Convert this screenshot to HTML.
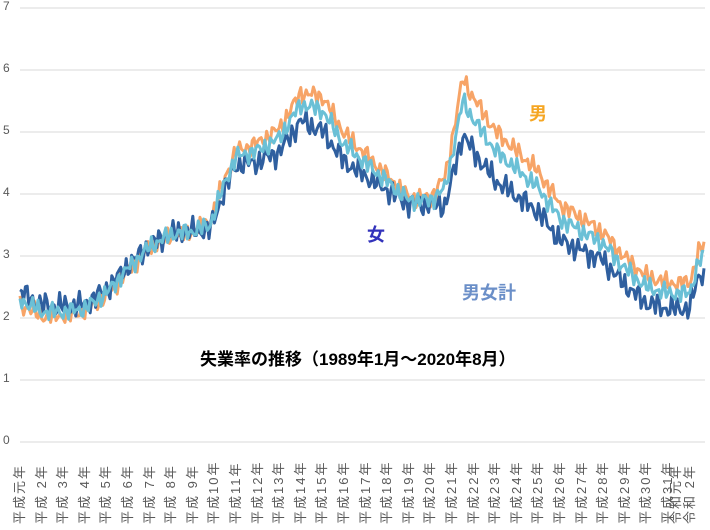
<!DOCTYPE html>
<html><head><meta charset="utf-8"><style>
html,body{margin:0;padding:0;background:#fff;}
#c{position:relative;width:710px;height:530px;overflow:hidden;font-family:"Liberation Sans","Noto Sans CJK JP",sans-serif;}
.yl{position:absolute;left:3px;font-size:12px;color:#595959;}
.xl{position:absolute;top:524px;transform:rotate(-90deg);transform-origin:left top;font-size:13px;color:#595959;line-height:14px;height:14px;white-space:nowrap;letter-spacing:2px;}
.an{position:absolute;font-weight:bold;font-size:18px;}
</style></head><body><div id="c">
<svg id="s" width="710" height="530" style="position:absolute;left:0;top:0"></svg>
<div class="an" style="left:529px;top:100px;color:#F5A623">男</div>
<div class="an" style="left:367px;top:221px;color:#3333BB">女</div>
<div class="an" style="left:462px;top:279px;color:#6B8FC8">男女計</div>
<div style="position:absolute;left:200px;top:345px;font-weight:bold;font-size:17px;color:#000">失業率の推移（1989年1月～2020年8月）</div>
</div>
<script>
const s=document.getElementById('s'),c=document.getElementById('c');
const Y=v=>442-62*v, X=m=>20+m*1.8;
let g='';
for(let v=0;v<=7;v++){g+=`<line x1="20" x2="705" y1="${Y(v)}" y2="${Y(v)}" stroke="#d9d9d9" stroke-width="1"/>`;
 c.insertAdjacentHTML('beforeend',`<div class="yl" style="top:${Y(v)-9}px">${v}</div>`);}
const labs=['平成元年'];for(let i=2;i<=30;i++)labs.push(i<10?'平成 '+i+'年':'平成'+i+'年');labs.push('平成31年','令和元年','令和 2年');
const pos=[];for(let i=0;i<31;i++)pos.push(13+i*21.6);
pos.push(pos[30]+8,pos[30]+22);
labs.forEach((t,i)=>{c.insertAdjacentHTML('beforeend',`<div class="xl" style="left:${pos[i]}px">${t}</div>`)});
function interp(k,m){for(let i=0;i<k.length-1;i++){if(m>=k[i][0]&&m<=k[i+1][0]){const t=(m-k[i][0])/(k[i+1][0]-k[i][0]);return k[i][1]+t*(k[i+1][1]-k[i][1]);}}return k[k.length-1][1];}
const y=a=>(a-1989)*12;
const T=[[0,2.3],[y(1989.5),2.2],[y(1990),2.1],[y(1991),2.1],[y(1992),2.15],[y(1993),2.4],[y(1994),2.8],[y(1995),3.15],[y(1996),3.35],[y(1997),3.4],[y(1997.8),3.5],[y(1998.5),4.2],[y(1999),4.6],[y(2000),4.7],[y(2001),4.9],[y(2002),5.45],[y(2003),5.35],[y(2004),4.8],[y(2005),4.5],[y(2006),4.2],[y(2007),3.9],[y(2008),3.9],[y(2008.7),4.1],[y(2009.5),5.5],[y(2010),5.2],[y(2011),4.7],[y(2012),4.4],[y(2013),4.1],[y(2014),3.6],[y(2015),3.4],[y(2016),3.2],[y(2017),2.8],[y(2018),2.5],[y(2019),2.4],[y(2020),2.4],[y(2020.4),2.9],[380,3.0]];
const D=[[0,-0.2],[y(1993),-0.1],[y(1997),0],[y(1998),0.15],[y(2000),0.3],[y(2002),0.45],[y(2003),0.55],[y(2005),0.35],[y(2007),0.1],[y(2008),0.1],[y(2009.5),0.9],[y(2011),0.8],[y(2013),0.65],[y(2016),0.45],[y(2020.6),0.4]];
function noise(m,k){return 0.09*Math.sin(m*1.7+k)+0.06*Math.sin(m*3.9+2*k)+0.04*Math.sin(m*0.61+k*3);}
const ser=[[0.4,'#F7A467',1],[-0.6,'#2F5F9F',2],[0,'#6BC0D6',3]];
ser.forEach(([f,col,k])=>{let p=[];for(let m=0;m<=380;m++){const v=interp(T,m)+f*interp(D,m)+noise(m,k)*(k==2?1.3:1);p.push(X(m).toFixed(1)+','+Y(v).toFixed(1));}
g+=`<polyline points="${p.join(' ')}" fill="none" stroke="${col}" stroke-width="3" stroke-linejoin="round"/>`;});
s.innerHTML=g;
</script></body></html>
